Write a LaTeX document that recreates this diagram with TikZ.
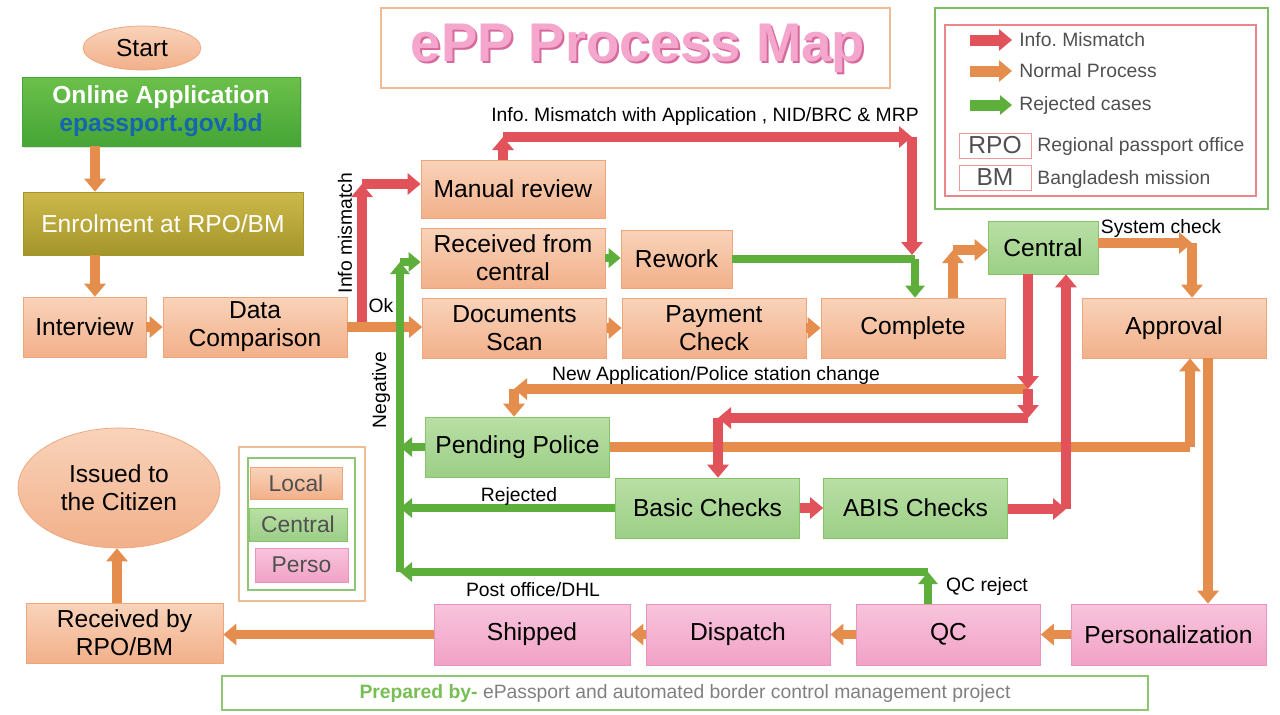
\documentclass[tikz,border=0pt]{standalone}
\usepackage{fontspec}
\setmainfont{Liberation Sans}
\usetikzlibrary{arrows.meta,shapes.geometric,shadows}
\frenchspacing

\definecolor{localtop}{HTML}{F9D3BA}
\definecolor{localbot}{HTML}{F2B08A}
\definecolor{localdraw}{HTML}{EDA57B}
\definecolor{centraltop}{HTML}{B9DFA5}
\definecolor{centralbot}{HTML}{9CCF86}
\definecolor{centraldraw}{HTML}{86C46C}
\definecolor{persotop}{HTML}{F8C4DC}
\definecolor{persobot}{HTML}{F1A2C6}
\definecolor{persodraw}{HTML}{E994BD}
\definecolor{flowc}{HTML}{E58D4D}
\definecolor{mismatchc}{HTML}{E2525A}
\definecolor{rejectc}{HTML}{5DAE3B}
\definecolor{onlinetop}{HTML}{6CC04A}
\definecolor{onlinebot}{HTML}{45A536}
\definecolor{linkblue}{HTML}{1565B0}
\definecolor{enroltop}{HTML}{CDB94A}
\definecolor{enrolbot}{HTML}{A4952B}
\definecolor{titlepink}{HTML}{F4A6CC}
\definecolor{titleshadow}{HTML}{D66A9C}
\definecolor{legendgray}{HTML}{505050}
\definecolor{footgreen}{HTML}{79BE55}

\begin{document}
\frenchspacing
\begin{tikzpicture}[x=0.02cm, y=-0.02cm,
		localbox/.style={rectangle, draw=localdraw, top color=localtop, bottom color=localbot, minimum width=3.68cm, minimum height=1.2cm, inner sep=0pt, align=center, font=\fontsize{14}{16}\selectfont},
		centralbox/.style={localbox, draw=centraldraw, top color=centraltop, bottom color=centralbot},
		persobox/.style={localbox, draw=persodraw, top color=persotop, bottom color=persobot},
		flowarrow/.style={draw=flowc, line width=0.19cm, -{Triangle[length=0.26cm, width=0.42cm]}},
		mismatcharrow/.style={flowarrow, draw=mismatchc},
		rejectarrow/.style={draw=rejectc, line width=0.15cm, -{Triangle[length=0.24cm, width=0.38cm]}},
		lbl/.style={font=\fontsize{11}{12}\selectfont, inner sep=1pt},
		legtext/.style={font=\fontsize{11}{13}\selectfont, text=legendgray, anchor=west, inner sep=0pt}
		]
		
		\fill[white] (0,0) rectangle (1280,714);
		\useasboundingbox (0,0) rectangle (1280,714);
		
		\draw[flowc!60, line width=0.6pt] (381,8) rectangle (890,88);
		\node[text=titleshadow, font=\fontsize{31}{31}\bfseries] at (640,50) {ePP Process Map};
		\node[text=titlepink, font=\fontsize{31}{31}\bfseries] (Title) at (638,48) {ePP Process Map};
		
		\node[localbox, ellipse, minimum width=2.36cm, minimum height=0.88cm] (Start) at (142,48) {Start};
		\node[localbox, draw=onlinebot, top color=onlinetop, bottom color=onlinebot, minimum width=5.56cm, minimum height=1.38cm, text=white, drop shadow={opacity=0.25, shadow xshift=0.04cm, shadow yshift=-0.04cm}] (Online) at (161,111.5) {\textbf{Online Application}\\ \textcolor{linkblue}{\textbf{epassport.gov.bd}}};
		\node[localbox, draw=enrolbot, top color=enroltop, bottom color=enrolbot, minimum width=5.6cm, minimum height=1.26cm, text=white] (Enrol) at (163,223.5) {Enrolment at RPO/BM};
		\node[localbox, minimum width=2.46cm] (Interview) at (84.5,327) {Interview};
		\node[localbox] (DataComp) at (255,327) {Data\\Comparison};
		\node[localbox, minimum height=1.16cm] (Manual) at (513,189) {Manual review};
		\node[localbox] (RecvCentral) at (513,258) {Received from\\central};
		\node[localbox, minimum width=2.22cm, minimum height=1.16cm] (Rework) at (676.5,259) {Rework};
		\node[localbox] (DocScan) at (514.5,328) {Documents\\Scan};
		\node[localbox] (Payment) at (714,328) {Payment\\Check};
		\node[localbox] (Complete) at (913,328) {Complete};
		\node[centralbox, minimum width=2.2cm, minimum height=1.06cm] (Central) at (1043,247.5) {Central};
		\node[localbox] (Approval) at (1174,328) {Approval};
		\node[centralbox] (Pending) at (517.5,447) {Pending Police};
		\node[centralbox] (Basic) at (707.5,508) {Basic Checks};
		\node[centralbox] (ABIS) at (915.5,508) {ABIS Checks};
		\node[localbox, ellipse, minimum width=4.04cm, minimum height=2.4cm] (Issued) at (119,488) {Issued to\\the Citizen};
		\node[localbox, minimum width=3.94cm] (RecvRPO) at (124.5,633) {Received by\\RPO/BM};
		\node[persobox, minimum width=3.92cm, minimum height=1.22cm] (Shipped) at (532,634.5) {Shipped};
		\node[persobox, minimum height=1.22cm] (Dispatch) at (738,634.5) {Dispatch};
		\node[persobox, minimum height=1.22cm] (QC) at (948.5,634.5) {QC};
		\node[persobox, minimum width=3.9cm, minimum height=1.22cm] (Person) at (1168.5,634.5) {Personalization};
		
		\coordinate (xa) at (95,0);
		\coordinate (k1) at (953,250);
		\coordinate (s1) at (1192,243);
		\coordinate (c1) at (1028,389);
		\coordinate (c2) at (1028,418);
		\coordinate (c3) at (718,418);
		\coordinate (p1) at (514,389);
		\coordinate (p2) at (1190,447);
		\coordinate (xb) at (1208,0);
		\coordinate (xc) at (117,0);
		\coordinate (im) at (362,322);
		\coordinate (r1) at (362,184);
		\coordinate (m1) at (503,137);
		\coordinate (m2) at (912,137);
		\coordinate (m3) at (912,255);
		\coordinate (a1) at (1066,509);
		\coordinate (w1) at (915,259);
		\coordinate (q1) at (928,572);
		\coordinate (q2) at (400,572);
		\coordinate (q3) at (400,262);
		
		\draw[flowarrow] (Online.south -| xa) -- (Enrol.north -| xa);
		\draw[flowarrow] (Enrol.south -| xa) -- (Interview.north -| xa);
		\draw[flowarrow] (Interview) -- (DataComp);
		\draw[flowarrow] (DataComp.east) -- (DataComp.east -| DocScan.west);
		\draw[flowarrow] (DocScan) -- (Payment);
		\draw[flowarrow] (Payment) -- (Complete);
		\draw[flowarrow] (Complete.north -| k1) -- (k1);
		\draw[flowarrow] (k1) -- (k1 -| Central.west);
		\draw[flowarrow] (Central.east |- s1) -- (s1);
		\draw[flowarrow] (s1) -- (s1 |- Approval.north);
		\draw[flowarrow] (c1) -- (p1);
		\draw[flowarrow] (p1) -- (p1 |- Pending.north);
		\draw[flowarrow, -] (Pending.east) -- (p2);
		\draw[flowarrow] (p2) -- (p2 |- Approval.south);
		\draw[flowarrow] (Approval.south -| xb) -- (Person.north -| xb);
		\draw[flowarrow] (Person) -- (QC);
		\draw[flowarrow] (QC) -- (Dispatch);
		\draw[flowarrow] (Dispatch) -- (Shipped);
		\draw[flowarrow] (Shipped.west) -- (Shipped.west -| RecvRPO.east);
		\draw[flowarrow] (RecvRPO.north -| xc) -- (Issued.south -| xc);
		
		\draw[rejectarrow] (RecvCentral.east) -- (RecvCentral.east -| Rework.west);
		\draw[rejectarrow, -] (Rework.east) -- (w1);
		\draw[rejectarrow] (w1) -- (w1 |- Complete.north);
		\draw[rejectarrow] (QC.north -| q1) -- (q1);
		\draw[rejectarrow] (q1) -- (q2);
		\draw[rejectarrow] (q2) -- (q3);
		\draw[rejectarrow] (q3) -- (q3 -| RecvCentral.west);
		\draw[rejectarrow] (Pending.west) -- (Pending.west -| q2);
		\draw[rejectarrow] (Basic.west) -- (Basic.west -| q2);
		
		\draw[mismatcharrow] (im) -- (r1);
		\draw[mismatcharrow] (r1) -- (r1 -| Manual.west);
		\draw[mismatcharrow] (Manual.north -| m1) -- (m1);
		\draw[mismatcharrow] (m1) -- (m2);
		\draw[mismatcharrow] (m2) -- (m3);
		\draw[mismatcharrow] (Central.south -| c1) -- (c1);
		\draw[mismatcharrow] (c1) -- (c2);
		\draw[mismatcharrow] (c2) -- (c3);
		\draw[mismatcharrow] (c3) -- (c3 |- Basic.north);
		\draw[mismatcharrow] (Basic) -- (ABIS);
		\draw[mismatcharrow] (ABIS.east |- a1) -- (a1);
		\draw[mismatcharrow] (a1) -- (a1 |- Central.south);
		
		\node[lbl] (okLbl) at (381,306) {Ok};
		\node[lbl, rotate=90] (mismatchLbl) at (345,233) {Info mismatch};
		\node[lbl, rotate=90] (negativeLbl) at (381,390) {Negative};
		\node[lbl] (appLbl) at (705,116) {Info. Mismatch with Application , NID/BRC \& MRP};
		\node[lbl] (sysLbl) at (1161,228) {System check};
		\node[lbl] (policeLbl) at (716,375) {New Application/Police station change};
		\node[lbl] (rejLbl) at (519,496) {Rejected};
		\node[lbl] (postLbl) at (533,590) {Post office/DHL};
		\node[lbl] (qcLbl) at (987,586) {QC reject};
		
		\draw[rejectc!80, line width=0.6pt] (935,8) rectangle (1268,209);
		\draw[mismatchc!70, line width=0.6pt] (945,25) rectangle (1256,196);
		\foreach \y/\sty/\txt in {40/mismatcharrow/Info. Mismatch, 71/flowarrow/Normal Process, 105/rejectarrow/Rejected cases} {
			\coordinate (lg\y a) at (970,\y);
			\coordinate (lg\y b) at (1012,\y);
			\draw[\sty, line width=0.22cm] (lg\y a) -- (lg\y b);
			\node[legtext] at (1019,\y) {\txt};
		}
		\node[rectangle, draw=mismatchc!60, minimum width=1.44cm, minimum height=0.5cm, inner sep=0pt, text=legendgray, font=\fontsize{14}{16}\selectfont] (RPO) at (995,145.5) {RPO};
		\node[rectangle, draw=mismatchc!60, minimum width=1.44cm, minimum height=0.5cm, inner sep=0pt, text=legendgray, font=\fontsize{14}{16}\selectfont] (BM) at (995,177.5) {BM};
		\node[legtext] at (1037,146) {Regional passport office};
		\node[legtext] at (1037,179) {Bangladesh mission};
		
		\draw[flowc!60, line width=0.6pt] (239,447) rectangle (365,601);
		\draw[rejectc!70, line width=0.6pt] (248,458) rectangle (355,590);
		\node[localbox, minimum width=1.84cm, minimum height=0.64cm, text=legendgray, font=\fontsize{13}{15}\selectfont] (LgLocal) at (296,483) {Local};
		\node[centralbox, minimum width=1.96cm, minimum height=0.66cm, text=legendgray, font=\fontsize{13}{15}\selectfont] (LgCentral) at (298,524.5) {Central};
		\node[persobox, minimum width=1.86cm, minimum height=0.68cm, text=legendgray, font=\fontsize{13}{15}\selectfont] (LgPerso) at (301.5,565) {Perso};
		
		\draw[rejectc!70, line width=0.6pt] (222,676) rectangle (1148,710);
		\node[font=\fontsize{11}{13}\selectfont, text=gray] (Footer) at (685,693) {\textcolor{footgreen}{\textbf{Prepared by-}} ePassport and automated border control management project};
		
	\end{tikzpicture}
\end{document}
